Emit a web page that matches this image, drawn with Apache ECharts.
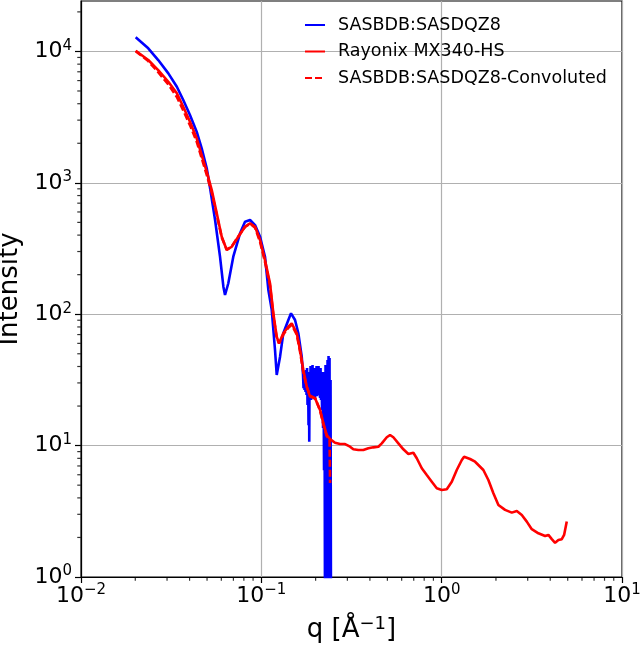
<!DOCTYPE html>
<html>
<head>
<meta charset="utf-8">
<script src="https://cdn.jsdelivr.net/npm/echarts@6/dist/echarts.min.js"></script>
<style>
  html, body { margin: 0; padding: 0; background: #fff; }
  #chart { width: 640px; height: 645px; }
</style>
</head>
<body>
<div id="chart"></div>
<script>
// SASBDB:SASDQZ8 (blue)
const qBlue = [0.0201, 0.0236, 0.0268, 0.0305, 0.0340, 0.0369, 0.0402, 0.0438, 0.0467, 0.0498,
  0.0520, 0.0554, 0.0590, 0.0616, 0.0629, 0.0656, 0.0699, 0.0762, 0.0812, 0.0866,
  0.0923, 0.0984, 0.1048, 0.1094, 0.1142, 0.1191, 0.1217, 0.1270, 0.1324, 0.1412,
  0.1461, 0.1538, 0.1604, 0.1675,
  0.1703, 0.1714, 0.1725, 0.1736, 0.1747, 0.1758, 0.1770, 0.1781, 0.1793, 0.1804,
  0.1816, 0.1827, 0.1839, 0.1844, 0.1851, 0.1863, 0.1875, 0.1887, 0.1899, 0.1911,
  0.1923, 0.1935, 0.1948, 0.1960, 0.1973, 0.1985, 0.1998, 0.2011, 0.2024, 0.2037,
  0.2050, 0.2063, 0.2076, 0.2089, 0.2103, 0.2116, 0.2130, 0.2143, 0.2157, 0.2171,
  0.2185, 0.2199, 0.2213, 0.2227, 0.2241, 0.2256, 0.2270, 0.2285, 0.2299, 0.2314,
  0.2329, 0.2344, 0.2359, 0.2374, 0.2389, 0.2404, 0.2420, 0.2435];
const iBlue = [12800, 10560, 8600, 6810, 5390, 4270, 3280, 2450, 1830, 1290,
  908, 521, 274, 162, 140, 172, 274, 413, 506, 521,
  477, 389, 274, 153, 108, 53.4, 34.5, 47.5, 71.6, 90.3,
  101.6, 90.3, 71.6, 47.5,
  34.5, 27.4, 36.3, 26.5, 33.3, 25.6, 37.6, 24.3, 38.9, 20.4,
  36.3, 14.3, 31.6, 10.7, 34.5, 23.0, 40.3, 22.2, 37.6, 23.8,
  41.1, 23.0, 38.9, 24.7, 36.3, 22.2, 38.9, 25.6, 40.3, 23.8,
  37.6, 24.3, 40.3, 25.6, 36.3, 23.0, 38.9, 22.2, 35.1, 18.7,
  36.3, 13.6, 32.7, 6.5, 36.3, 0.3, 41.1, 0.3, 37.6, 0.3,
  44.8, 0.3, 48.1, 0.3, 46.4, 0.3, 31.6, 0.3];

// Rayonix MX340-HS (red solid)
const qRed = [0.0201, 0.0236, 0.0268, 0.0305, 0.0340, 0.0369, 0.0402, 0.0438, 0.0467, 0.0498,
  0.0531, 0.0566, 0.0603, 0.0643, 0.0685, 0.0745, 0.0812, 0.0866, 0.0923, 0.0984,
  0.1048, 0.1117, 0.1166, 0.1217, 0.1254, 0.1324, 0.1412, 0.1474, 0.1572, 0.1639,
  0.1710, 0.1786, 0.1862, 0.1985, 0.2117, 0.2208, 0.2306, 0.2405, 0.2563, 0.2733,
  0.2913, 0.3105, 0.3237, 0.3451, 0.3679, 0.3922, 0.4180, 0.4456, 0.4655, 0.4962,
  0.5174, 0.5396, 0.5753, 0.6132, 0.6537, 0.6966, 0.7276, 0.7758, 0.8268, 0.8814,
  0.9394, 1.0014, 1.0673, 1.1378, 1.2126, 1.2932, 1.3317, 1.4374, 1.5321, 1.7031,
  1.8155, 1.9354, 2.0634, 2.247, 2.448, 2.610, 2.782, 2.965, 3.160, 3.439,
  3.746, 3.907, 4.080, 4.256, 4.439, 4.636, 4.775, 4.940];
const iRed = [10120, 8600, 7215, 5880, 4800, 3795, 2917, 2181, 1628, 1215,
  881, 586, 389, 308, 326, 389, 463, 492, 463, 367,
  258, 172, 101.6, 67.4, 60.0, 71.6, 80.3, 85.2, 71.6, 53.4,
  37.6, 28.1, 23.6, 22.9, 18.7, 14.8, 12.0, 11.2, 10.52, 10.28,
  10.28, 9.81, 9.37, 9.26, 9.26, 9.54, 9.70, 9.81, 10.41, 11.57,
  12.04, 11.57, 10.41, 9.37, 8.63, 8.83, 8.01, 6.72, 5.97, 5.31,
  4.73, 4.59, 4.65, 5.31, 6.52, 7.77, 8.23, 7.91, 7.54, 6.52,
  5.47, 4.34, 3.53, 3.24, 3.09, 3.18, 2.96, 2.64, 2.31, 2.15,
  2.05, 2.09, 1.94, 1.82, 1.91, 1.94, 2.09, 2.64];

// SASBDB:SASDQZ8-Convoluted (red dashed)
const qConv = [0.0201, 0.0236, 0.0268, 0.0305, 0.0340, 0.0369, 0.0402, 0.0438, 0.0467, 0.0498,
  0.0531, 0.0566, 0.0603, 0.0643, 0.0685, 0.0745, 0.0812, 0.0866, 0.0923, 0.0984,
  0.1048, 0.1117, 0.1166, 0.1217, 0.1254, 0.1324, 0.1412, 0.1474, 0.1572, 0.1639,
  0.1710, 0.1786, 0.1862, 0.1985, 0.2117, 0.2208, 0.2306, 0.2390, 0.2405];
const iConv = [10050, 8450, 6950, 5600, 4500, 3560, 2750, 2060, 1540, 1150,
  840, 570, 385, 310, 328, 390, 462, 488, 455, 355,
  250, 165, 98, 66, 60, 70, 79, 83, 70, 52,
  36, 28, 24, 23, 18.5, 14.5, 11.8, 11.2, 5.2];

const xTicks = [0.01, 0.1, 1, 10];
const yTicks = [1, 10, 100, 1000, 10000];

const xMinor = [];
[0.01, 0.1, 1].forEach(d => { for (let m = 2; m <= 9; m++) xMinor.push(+(d * m).toPrecision(3)); });
const yMinor = [];
[1, 10, 100, 1000, 10000].forEach(d => { for (let m = 2; m <= 9; m++) if (d * m < 24200) yMinor.push(d * m); });

const FONT = 'DejaVu Sans';
const X_MIN = 0.01, X_MAX = 10, Y_MIN = 1, Y_MAX = 24200;
const pairs = (xs, ys) => xs.map((x, i) => [x, ys[i]]);

const supLabel = v => {
  const e = Math.round(Math.log10(v));
  return '{b|10}{s|' + (e < 0 ? '\u2212' + (-e) : e) + '}';
};
const labelRich = {
  b: { fontSize: 22, fontFamily: FONT, color: '#000' },
  s: { fontSize: 15, fontFamily: FONT, color: '#000', padding: [0, 0, 11, 0] }
};

// small outward tick marks at the log minor positions
const minorTicks = (data, size, offset) => ({
  type: 'scatter', data, symbol: 'rect', symbolSize: size, symbolOffset: offset,
  itemStyle: { color: '#000' }, silent: true, clip: false, z: 5,
  emphasis: { disabled: true }, tooltip: { show: false }
});

const chart = echarts.init(document.getElementById('chart'));
chart.setOption({
  animation: false,
  backgroundColor: '#fff',
  grid: { left: 81, right: 18, top: 1, bottom: 68, show: true, borderColor: '#000', borderWidth: 1.2,
    containLabel: false, outerBoundsMode: 'none' },
  legend: {
    orient: 'vertical', left: 304, top: 16, padding: 0,
    itemWidth: 20, itemHeight: 14, itemGap: 8.5,
    itemStyle: { opacity: 0 },
    textStyle: { fontFamily: FONT, fontSize: 17.5, color: '#000', padding: [0, 0, 0, 8] },
    data: ['SASBDB:SASDQZ8', 'Rayonix MX340-HS', 'SASBDB:SASDQZ8-Convoluted']
  },
  xAxis: {
    type: 'log', logBase: 10, min: X_MIN, max: X_MAX,
    axisLine: { lineStyle: { color: '#000', width: 1.2 } },
    axisTick: { customValues: xTicks, length: 6, lineStyle: { color: '#000', width: 1.2 } },
    axisLabel: { customValues: xTicks, formatter: supLabel, rich: labelRich, margin: 6 },
    splitLine: { show: true, lineStyle: { color: '#b0b0b0', width: 1.2 } },
    name: '{n|q [Å}{s|\u22121}{n|]}', nameLocation: 'middle', nameGap: 38,
    nameTextStyle: { rich: {
      n: { fontSize: 26, fontFamily: FONT, color: '#000' },
      s: { fontSize: 18, fontFamily: FONT, color: '#000', padding: [0, 0, 13, 0] }
    } }
  },
  yAxis: {
    type: 'log', logBase: 10, min: Y_MIN, max: Y_MAX,
    axisLine: { lineStyle: { color: '#000', width: 1.2 } },
    axisTick: { customValues: yTicks, length: 6, lineStyle: { color: '#000', width: 1.2 } },
    axisLabel: { customValues: yTicks, formatter: supLabel, rich: labelRich, margin: 9 },
    splitLine: { show: true, lineStyle: { color: '#b0b0b0', width: 1.2 } },
    name: 'Intensity', nameLocation: 'middle', nameGap: 47,
    nameTextStyle: { fontSize: 26, fontFamily: FONT, color: '#000' }
  },
  series: [{
    name: 'SASBDB:SASDQZ8', type: 'line', data: pairs(qBlue, iBlue),
    showSymbol: false, symbol: 'none', clip: true,
    lineStyle: { color: '#0000ff', width: 2.6 }, itemStyle: { color: '#0000ff' }
  }, {
    name: 'Rayonix MX340-HS', type: 'line', data: pairs(qRed, iRed),
    showSymbol: false, symbol: 'none', clip: true,
    lineStyle: { color: '#ff0000', width: 2.6 }, itemStyle: { color: '#ff0000' }
  }, {
    name: 'SASBDB:SASDQZ8-Convoluted', type: 'line', data: pairs(qConv, iConv),
    showSymbol: false, symbol: 'none', clip: true,
    lineStyle: { color: '#ff0000', width: 2.6, type: [7, 3] }, itemStyle: { color: '#ff0000' }
  },
  minorTicks(xMinor.map(v => [v, Y_MIN]), [1.2, 3.5], [0, 2]),
  minorTicks(yMinor.map(v => [X_MIN, v]), [3.5, 1.2], [-2, 0])
  ]
});
</script>
</body>
</html>
